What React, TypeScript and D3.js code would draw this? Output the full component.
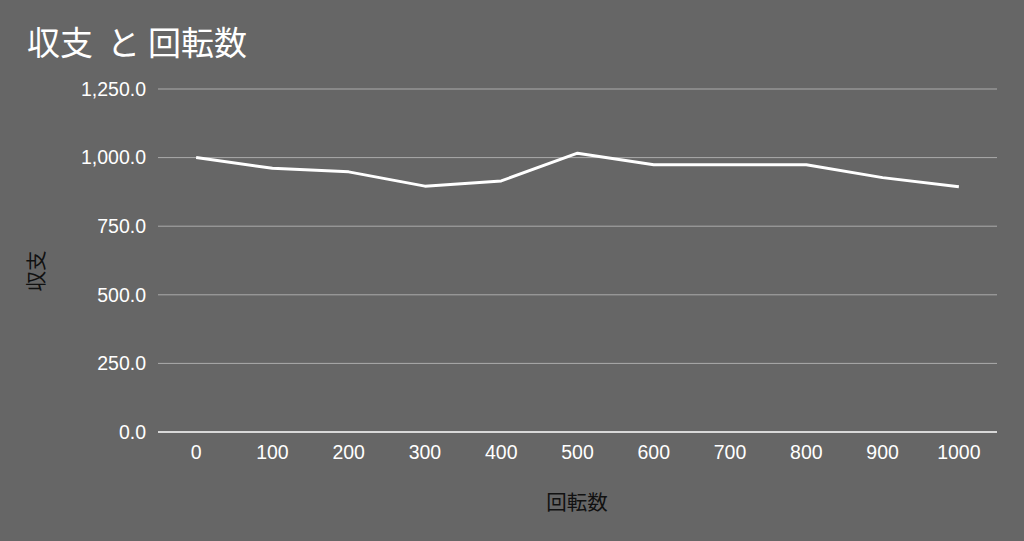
import React from "react";
import * as d3 from "d3";

const categories = ["0", "100", "200", "300", "400", "500", "600", "700", "800", "900", "1000"];
const values = [1000, 961, 948, 896, 915, 1016, 974, 974, 974, 927, 894];
const yTicks = [0, 250, 500, 750, 1000, 1250];
const titleParts = ["収支", "と", "回転数"];

const W = 1024;
const H = 541;
const left = 158;
const right = 997;
const top = 89;
const bottom = 432;

export default function App() {
  const x = d3.scaleBand<string>().domain(categories).range([left, right]).padding(0);
  const y = d3.scaleLinear().domain([0, 1250]).range([bottom, top]);
  const fmt = d3.format(",.1f");
  const line = d3
    .line<number>()
    .x((_, i) => (x(categories[i]) as number) + x.bandwidth() / 2)
    .y((d) => y(d));
  const font = "Liberation Sans, Arial, Helvetica, sans-serif";
  const cjk = "Noto Sans CJK JP, sans-serif";
  const titleX = [27, 107, 148];
  return (
    <svg width={W} height={H} style={{ position: "absolute", left: 0, top: 0, display: "block" }}>
      <rect x={0} y={0} width={W} height={H} fill="#666666" />
      {titleParts.map((p, i) => (
        <text key={p} x={titleX[i]} y={55} fill="#ffffff" fontSize={33} fontFamily={cjk}>
          {p}
        </text>
      ))}
      {yTicks.map((t) => (
        <g key={t}>
          {t !== 0 && (
            <line x1={left} x2={right} y1={y(t)} y2={y(t)} stroke="#acacac" strokeWidth={1} />
          )}
          <text
            x={146}
            y={y(t)}
            dy="0.35em"
            textAnchor="end"
            fill="#ffffff"
            fontSize={19.5}
            fontFamily={font}
          >
            {fmt(t)}
          </text>
        </g>
      ))}
      <line x1={left} x2={right} y1={bottom} y2={bottom} stroke="#ffffff" strokeWidth={1.5} />
      {categories.map((c) => (
        <text
          key={c}
          x={(x(c) as number) + x.bandwidth() / 2}
          y={459}
          textAnchor="middle"
          fill="#ffffff"
          fontSize={19.5}
          fontFamily={font}
        >
          {c}
        </text>
      ))}
      <path d={line(values) || ""} fill="none" stroke="#ffffff" strokeWidth={3} strokeLinejoin="round" />
      <text x={577} y={510} textAnchor="middle" fill="#111111" fontSize={20.5} fontFamily={cjk}>
        回転数
      </text>
      <text
        transform={`translate(44, 271) rotate(-90)`}
        textAnchor="middle"
        fill="#111111"
        fontSize={20.5}
        fontFamily={cjk}
      >
        収支
      </text>
    </svg>
  );
}
